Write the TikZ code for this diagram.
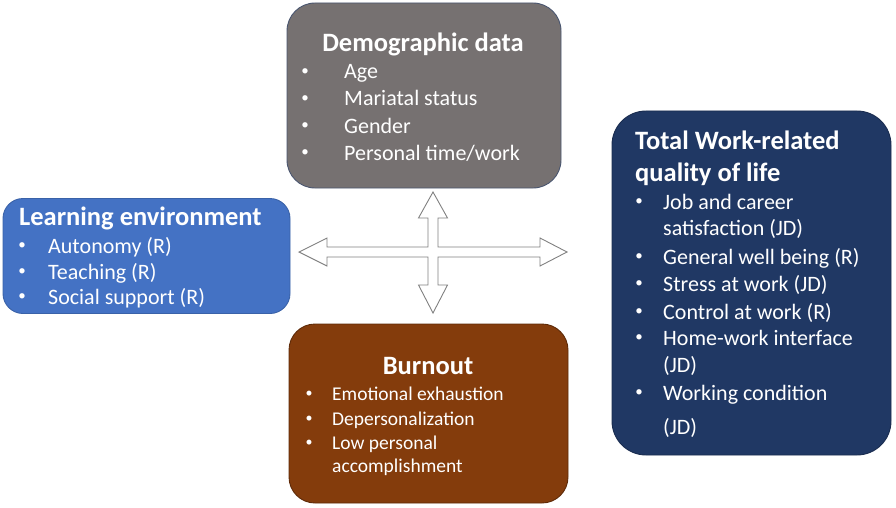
\documentclass[tikz,border=0pt]{standalone}
\usepackage{fontspec}
\setmainfont{Carlito}
\definecolor{demofill}{HTML}{767171}
\definecolor{demoline}{HTML}{4A5670}
\definecolor{learnfill}{HTML}{4472C4}
\definecolor{learnline}{HTML}{3A62A8}
\definecolor{qolfill}{HTML}{203864}
\definecolor{qolline}{HTML}{1A2D50}
\definecolor{burnfill}{HTML}{843C0C}
\definecolor{burnline}{HTML}{5E2A08}
\definecolor{crossline}{HTML}{808080}
\begin{document}
\begin{tikzpicture}[x=1pt,y=-1pt,
  box/.style={draw, line width=0.9pt, inner sep=0pt, rectangle},
  ttl/.style={font=\fontsize{26.5}{31}\selectfont\bfseries, text=white, inner sep=0pt},
  itm/.style={font=\fontsize{22}{26}\selectfont, text=white, inner sep=0pt, anchor=base west},
  bul/.style={font=\fontsize{15}{18}\selectfont, text=white, inner sep=0pt, anchor=center},
  sitm/.style={font=\fontsize{19.5}{23}\selectfont, text=white, inner sep=0pt, anchor=base west},
  sbul/.style={font=\fontsize{14}{17}\selectfont, text=white, inner sep=0pt, anchor=center}]
\useasboundingbox (0,0) rectangle (896,508);

% Demographic data
\node[box, fill=demofill, draw=demoline, rounded corners=28pt, minimum width=274pt, minimum height=185pt] (demo) at (424,95.5) {};
\node[ttl, anchor=base] (demot) at (423,52) {Demographic data};
\foreach \t/\y [count=\i] in {Age/79, Mariatal status/106, Gender/133, Personal time\slash work/160}{
  \node[bul] (demob\i) at (305,\y-6.5) {•};
  \node[itm] (demoi\i) at (344,\y) {\t};
}

% Learning environment
\node[box, fill=learnfill, draw=learnline, rounded corners=20pt, minimum width=287pt, minimum height=115pt] (learn) at (146.5,256) {};
\node[ttl, anchor=base west] (learnt) at (19,225) {Learning environment};
\foreach \t/\y [count=\i] in {Autonomy (R)/253, Teaching (R)/279, Social support (R)/304}{
  \node[bul] (learnb\i) at (22,\y-6.5) {•};
  \node[itm] (learni\i) at (48,\y) {\t};
}

% Total work-related quality of life
\node[box, fill=qolfill, draw=qolline, rounded corners=34pt, minimum width=279pt, minimum height=344pt] (qol) at (751.5,283) {};
\node[ttl, anchor=base west] (qolt1) at (635,149) {Total Work-related};
\node[ttl, anchor=base west] (qolt2) at (635,181) {quality of life};
\foreach \y [count=\i] in {209,264,291,319,345,400}{
  \node[bul] (qolb\i) at (639,\y-6.5) {•};
}
\node[itm] (qoli1) at (663,209) {Job and career};
\node[itm] (qoli2) at (663,235) {satisfaction (JD)};
\node[itm] (qoli3) at (663,264) {General well being (R)};
\node[itm] (qoli4) at (663,291) {Stress at work (JD)};
\node[itm] (qoli5) at (663,319) {Control at work (R)};
\node[itm] (qoli6) at (663,345) {Home-work interface};
\node[itm] (qoli7) at (663,372) {(JD)};
\node[itm] (qoli8) at (663,400) {Working condition};
\node[itm] (qoli9) at (663,434) {(JD)};

% Burnout
\node[box, fill=burnfill, draw=burnline, rounded corners=26pt, minimum width=279pt, minimum height=179pt] (burn) at (428.5,413.5) {};
\node[ttl, anchor=base] (burnt) at (428,374) {Burnout};
\foreach \y [count=\i] in {400,425,449}{
  \node[sbul] (burnb\i) at (309,\y-6) {•};
}
\node[sitm] (burni1) at (332,400) {Emotional exhaustion};
\node[sitm] (burni2) at (332,425) {Depersonalization};
\node[sitm] (burni3) at (332,449) {Low personal};
\node[sitm] (burni4) at (332,472) {accomplishment};

% Four-way arrow
\coordinate (c) at (433,252);
\draw[crossline, line width=0.9pt, fill=white, line join=miter]
  (433,192) -- (447.5,218) -- (438,218) -- (438,247) -- (540,247) -- (540,238)
  -- (567,252) -- (540,266) -- (540,257) -- (438,257) -- (438,285) -- (447.5,285)
  -- (433,313) -- (418.5,285) -- (428,285) -- (428,257) -- (327,257) -- (327,266)
  -- (299,252) -- (327,238) -- (327,247) -- (428,247) -- (428,218) -- (418.5,218) -- cycle;
\end{tikzpicture}
\end{document}
